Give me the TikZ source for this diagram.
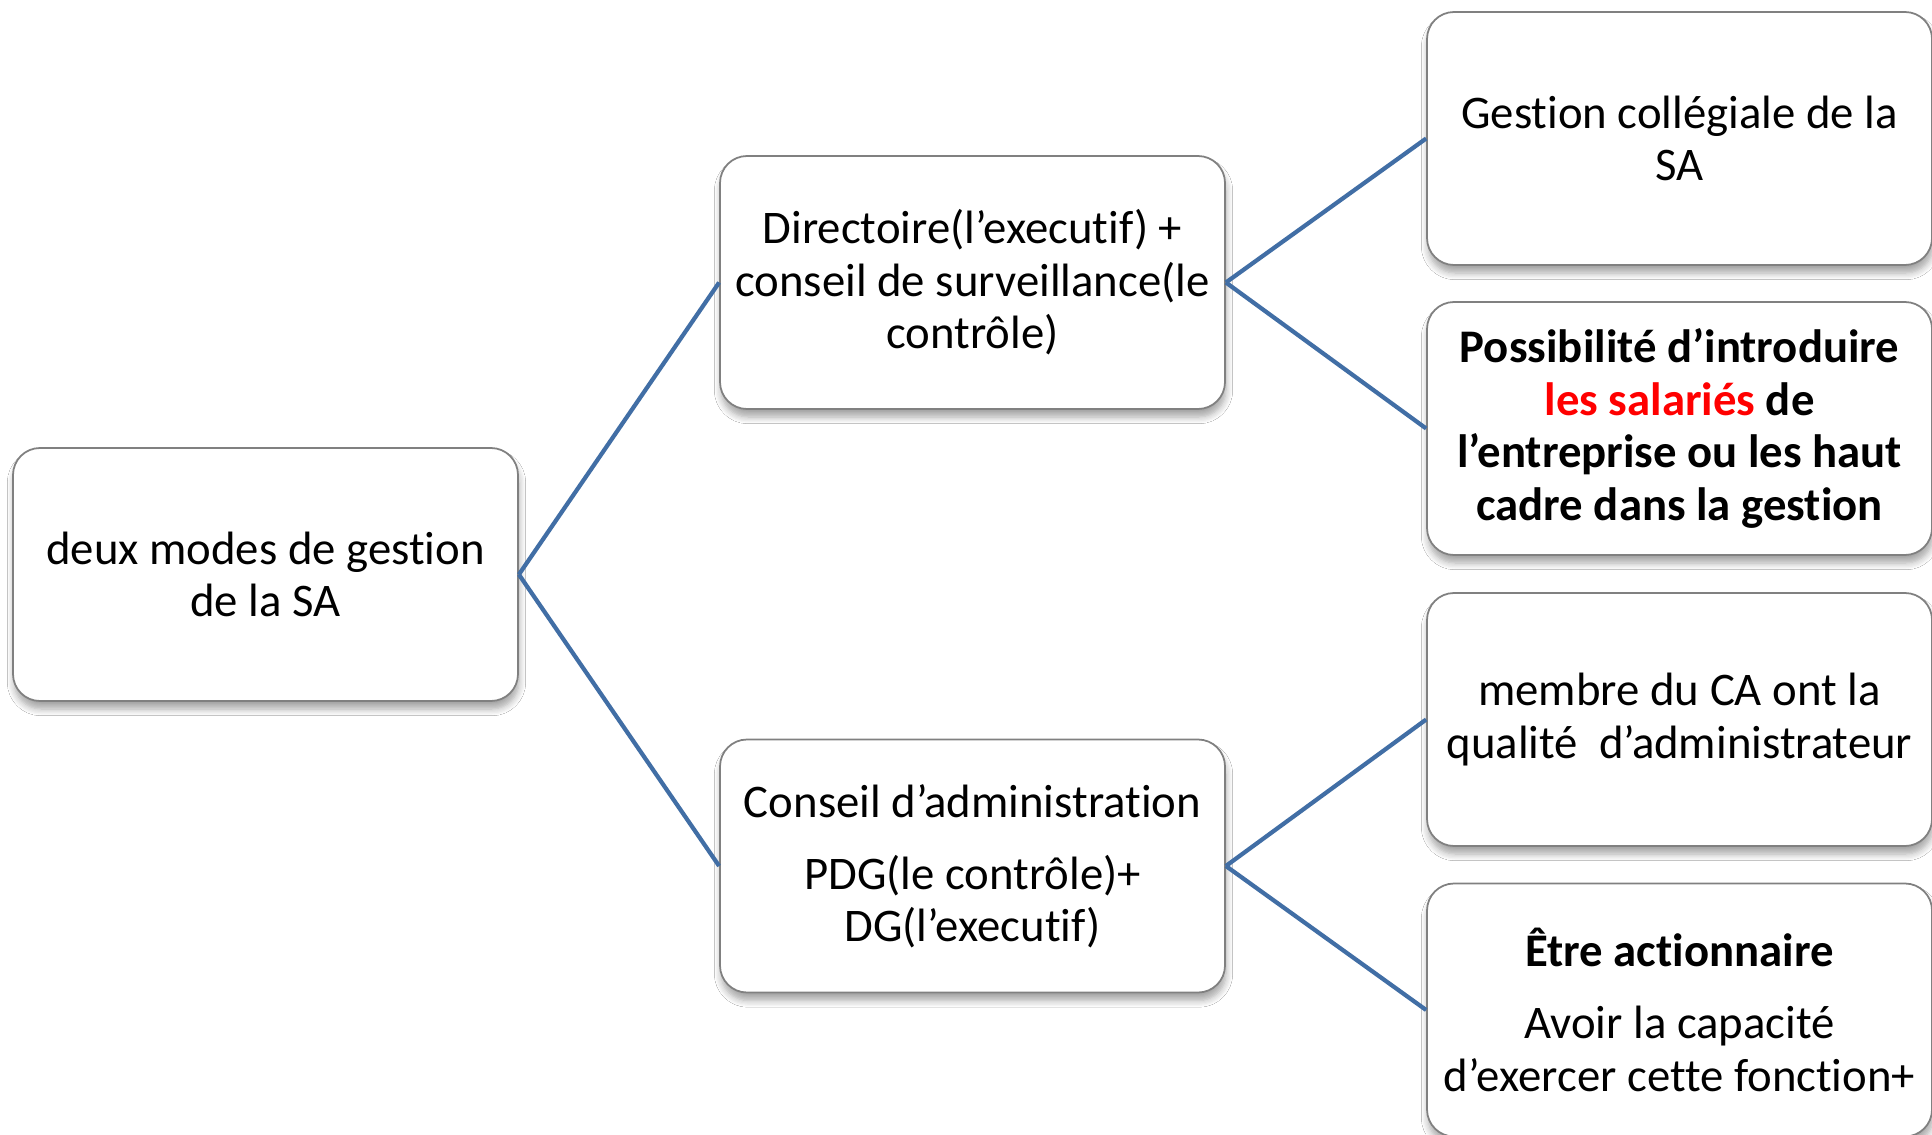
\documentclass[tikz,border=0pt]{standalone}
\usepackage{fontspec}
\setmainfont{Carlito}[Ligatures=NoCommon]
\usepackage{tikz}
\usetikzlibrary{shadows.blur}
\definecolor{linkblue}{RGB}{65,110,165}
\tikzstyle{smartbox} = [rectangle, rounded corners=0.27cm, minimum width=5.05cm, minimum height=2.53cm, text centered, align=center, draw=black!50, line width=0.5pt, fill=white, blur shadow={shadow xshift=0.1mm, shadow yshift=-0.8mm, shadow opacity=35, shadow blur steps=6}, font=\fontsize{13.3}{14.9}\selectfont]
\tikzstyle{branch} = [linkblue, line width=1.2pt]

\begin{document}
\begin{tikzpicture}[node distance=7.07cm]
		\path [use as bounding box, fill=white] (0,0) rectangle (19.32,-11.35);
		% Nodes
		\node (Root) [smartbox] at (2.655,-5.745) {deux modes de gestion\\de la SA};
		\node (Dir) [smartbox, right of = Root, yshift = 2.92cm] {Directoire(l’executif) +\\conseil de surveillance(le\\contrôle)};
		\node (CA) [smartbox, right of = Root, yshift = -2.915cm] {Conseil d’administration\\[5.6pt]PDG(le contrôle)+\\DG(l’executif)};
		\node (Coll) [smartbox, right of = Dir, yshift = 1.44cm] {Gestion collégiale de la\\SA};
		\node (Sal) [smartbox, right of = Dir, yshift = -1.46cm, font=\fontsize{13.3}{14.9}\selectfont\bfseries] {Possibilité d’introduire\\\textcolor{red}{les salariés} de\\l’entreprise ou les haut\\cadre dans la gestion};
		\node (Memb) [smartbox, right of = CA, yshift = 1.465cm] {membre du CA ont la\\qualité\ \ d’administrateur};
		\node (Act) [smartbox, right of = CA, yshift = -1.44cm] {\textbf{Être actionnaire}\\[5.6pt]Avoir la capacité\\d’exercer cette fonction+};
		% Lines
		\draw [branch] (Root.east) -- (Dir.west);
		\draw [branch] (Root.east) -- (CA.west);
		\draw [branch] (Dir.east) -- (Coll.west);
		\draw [branch] (Dir.east) -- (Sal.west);
		\draw [branch] (CA.east) -- (Memb.west);
		\draw [branch] (CA.east) -- (Act.west);
	\end{tikzpicture}
\end{document}
